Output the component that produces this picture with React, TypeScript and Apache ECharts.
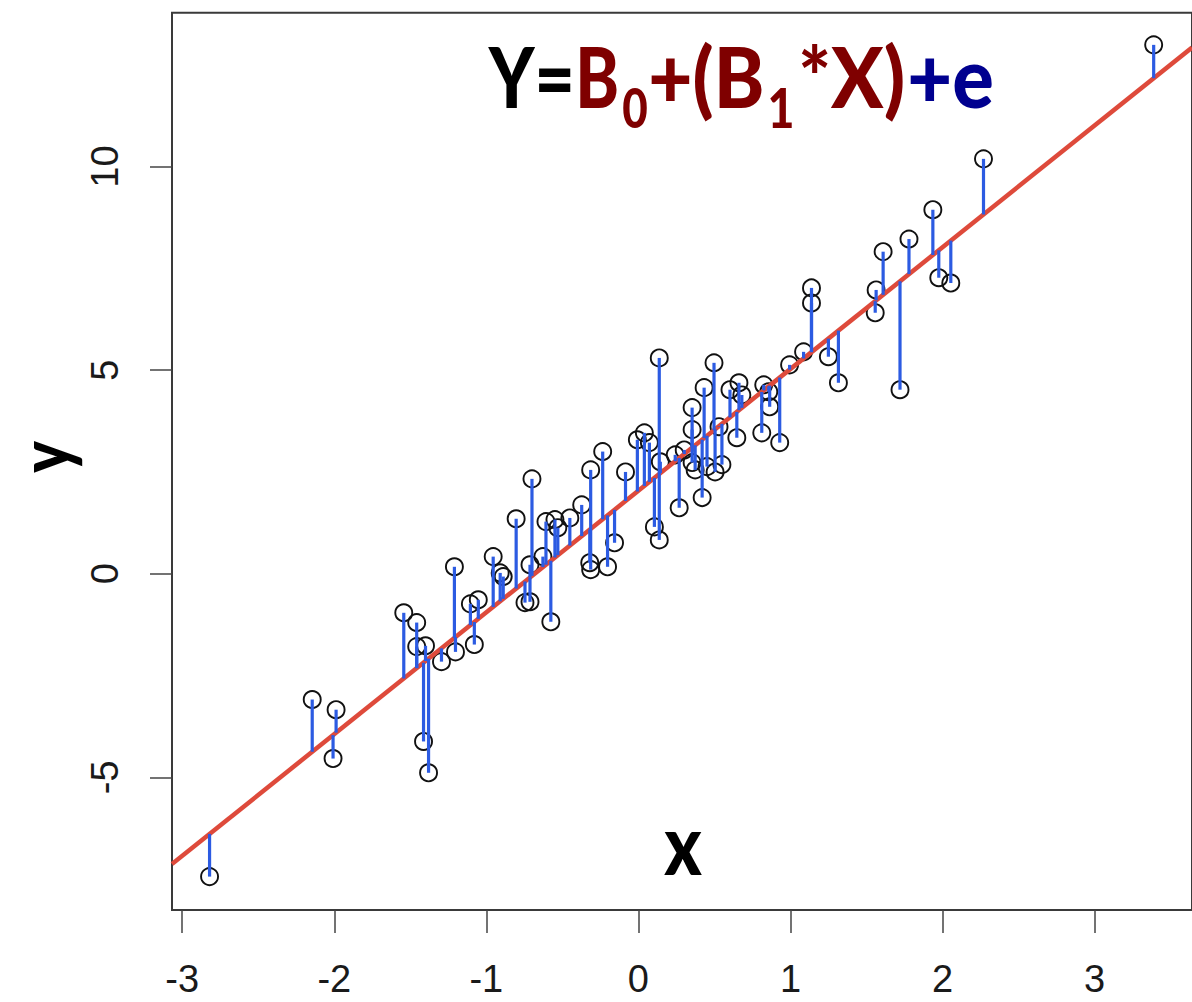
import React, { useEffect, useRef } from "react";
import * as echarts from "echarts";

// Observations: predictor x and response y
const xValues = [
  -2.82, -2.145, -2.008, -1.988, -1.543, -1.458, -1.458, -1.4, -1.413, -1.38,
  -1.295, -1.21, -1.203, -1.079, -1.105, -1.053, -0.955, -0.909, -0.889, -0.804,
  -0.746, -0.713, -0.7, -0.713, -0.628, -0.576, -0.608, -0.549, -0.53, -0.451,
  -0.373, -0.314, -0.235, -0.085, -0.32, -0.314, -0.203, -0.157, -0.007, 0.039,
  0.072, 0.105, 0.137, 0.137, 0.144, 0.242, 0.301, 0.268, 0.353, 0.353,
  0.353, 0.373, 0.432, 0.419, 0.497, 0.451, 0.504, 0.549, 0.53, 0.602,
  0.661, 0.68, 0.647, 0.811, 0.824, 0.857, 0.863, 0.929, 0.994, 1.086,
  1.138, 1.138, 1.249, 1.315, 1.563, 1.557, 1.609, 1.72, 1.779, 1.936,
  1.975, 2.054, 2.269, 3.388,
];
const yValues = [
  -7.44, -3.09, -4.54, -3.34, -0.96, -1.2, -1.79, -1.77, -4.12, -4.89,
  -2.16, 0.17, -1.92, -1.74, -0.74, -0.64, 0.42, 0.02, -0.07, 1.35,
  -0.71, -0.69, 2.33, 0.22, 0.42, -1.18, 1.28, 1.33, 1.13, 1.37,
  1.69, 2.55, 3.0, 2.5, 0.27, 0.1, 0.17, 0.76, 3.29, 3.46,
  3.22, 1.15, 0.83, 5.3, 2.75, 2.92, 3.04, 1.62, 4.08, 3.54,
  2.73, 2.55, 4.57, 1.87, 5.18, 2.63, 2.5, 2.68, 3.61, 4.52,
  4.69, 4.39, 3.34, 3.46, 4.64, 4.47, 4.1, 3.22, 5.13, 5.45,
  7.02, 6.65, 5.33, 4.69, 6.97, 6.41, 7.91, 4.52, 8.22, 8.94,
  7.27, 7.14, 10.19, 12.99,
];

// Least-squares fit: y = B0 + B1 * x
const B0 = 2.04;
const B1 = 2.99;

const xTickValues = [-3, -2, -1, 0, 1, 2, 3];
const yTickValues = [-5, 0, 5, 10];

const xLimits = [-3.067, 3.64];
const yLimits = [-8.26, 13.78];

const RED = "#de4a3b";
const BLUE = "#2c5be2";
const DARK_RED = "#7f0000";
const NAVY = "#00008f";

const HEADING_FONT = "Lato";
const HEADING_WEIGHT = 900;

// Pieces of the model formula, with the horizontal span each occupies
const formulaParts = [
  { text: "Y=", color: "#000000", sub: false, left: 488, right: 571 },
  { text: "B", color: DARK_RED, sub: false, left: 580, right: 617 },
  { text: "0", color: DARK_RED, sub: true, left: 623, right: 647 },
  { text: "+(B", color: DARK_RED, sub: false, left: 651, right: 762 },
  { text: "1", color: DARK_RED, sub: true, left: 770, right: 792 },
  { text: "*X)", color: DARK_RED, sub: false, left: 801, right: 903 },
  { text: "+e", color: NAVY, sub: false, left: 910, right: 992 },
];

function measureInk(text: string, font: string) {
  const ctx = document.createElement("canvas").getContext("2d")!;
  ctx.font = font;
  const m = ctx.measureText(text);
  return { left: m.actualBoundingBoxLeft, right: m.actualBoundingBoxRight };
}

function formulaGraphics() {
  const mainSize = 84;
  const subSize = 55;
  const baseMain = 108;
  const baseSub = 128;
  return formulaParts.map((p) => {
    const size = p.sub ? subSize : mainSize;
    const font = `${HEADING_WEIGHT} ${size}px ${HEADING_FONT}`;
    const ink = measureInk(p.text, font);
    const inkW = ink.left + ink.right;
    const sx = (p.right - p.left) / inkW;
    const x0 = p.left + ink.left * sx;
    const baseline = p.sub ? baseSub : baseMain;
    return {
      type: "text",
      x: x0,
      y: baseline - 0.387 * size,
      scaleX: sx,
      z: 10,
      style: {
        text: p.text,
        fill: p.color,
        font,
        align: "left",
        verticalAlign: "middle",
        textAlign: "left",
        textVerticalAlign: "middle",
      },
    };
  });
}

export default function App() {
  const ref = useRef<HTMLDivElement>(null);

  useEffect(() => {
    const chart = echarts.init(ref.current!, null, { renderer: "svg" });

    const points = xValues.map((x, i) => [x, yValues[i]]);
    const residuals = xValues.map((x, i) => [x, yValues[i], B0 + B1 * x]);
    const fitLine = xLimits.map((x) => [x, B0 + B1 * x]);

    const tickStyle = { color: "#444", width: 1.5 };
    const labelStyle = {
      fontFamily: "Liberation Sans",
      fontSize: 38,
      color: "#1a1a1a",
    };

    chart.setOption({
      animation: false,
      backgroundColor: "#ffffff",
      grid: {
        show: true,
        left: 172,
        top: 12.7,
        width: 1025.6,
        height: 897.3,
        borderColor: "#3a3a3a",
        borderWidth: 2,
        backgroundColor: "transparent",
      },
      xAxis: {
        type: "value",
        min: xLimits[0],
        max: xLimits[1],
        splitLine: { show: false },
        axisLine: { show: false, onZero: false },
        axisTick: {
          show: true,
          inside: false,
          length: 23,
          customValues: xTickValues,
          lineStyle: tickStyle,
        },
        axisLabel: {
          ...labelStyle,
          margin: 50,
          customValues: xTickValues,
        },
      },
      yAxis: {
        type: "value",
        min: yLimits[0],
        max: yLimits[1],
        splitLine: { show: false },
        axisLine: { show: false, onZero: false },
        axisTick: {
          show: true,
          inside: false,
          length: 22,
          customValues: yTickValues,
          lineStyle: tickStyle,
        },
        axisLabel: {
          ...labelStyle,
          rotate: 90,
          margin: 48,
          customValues: yTickValues,
        },
      },
      series: [
        {
          type: "scatter",
          data: points,
          symbol: "circle",
          symbolSize: 17,
          z: 2,
          itemStyle: {
            color: "rgba(0,0,0,0)",
            borderColor: "#111",
            borderWidth: 1.9,
            opacity: 1,
          },
        },
        {
          type: "line",
          data: fitLine,
          showSymbol: false,
          z: 3,
          lineStyle: { color: RED, width: 4.5 },
        },
        {
          type: "custom",
          data: residuals,
          z: 4,
          encode: { x: 0, y: [1, 2] },
          renderItem: (_params: any, api: any) => {
            const a = api.coord([api.value(0), api.value(1)]);
            const b = api.coord([api.value(0), api.value(2)]);
            return {
              type: "line",
              shape: { x1: a[0], y1: a[1], x2: b[0], y2: b[1] },
              style: { stroke: BLUE, lineWidth: 3.2 },
            };
          },
        },
      ],
      graphic: [
        ...formulaGraphics(),
        {
          type: "text",
          x: 43,
          y: 457,
          rotation: Math.PI / 2,
          scaleX: 0.85,
          style: {
            text: "y",
            fill: "#000",
            font: `${HEADING_WEIGHT} 70px ${HEADING_FONT}`,
            align: "center",
            verticalAlign: "middle",
            textAlign: "center",
            textVerticalAlign: "middle",
          },
        },
        {
          type: "text",
          x: 683,
          y: 843,
          scaleX: 0.85,
          style: {
            text: "x",
            fill: "#000",
            font: `${HEADING_WEIGHT} 83px ${HEADING_FONT}`,
            align: "center",
            verticalAlign: "middle",
            textAlign: "center",
            textVerticalAlign: "middle",
          },
        },
      ],
    });

    return () => chart.dispose();
  }, []);

  return (
    <div
      ref={ref}
      style={{
        position: "fixed",
        left: 0,
        top: 0,
        width: 1192,
        height: 1002,
        background: "#fff",
      }}
    />
  );
}
